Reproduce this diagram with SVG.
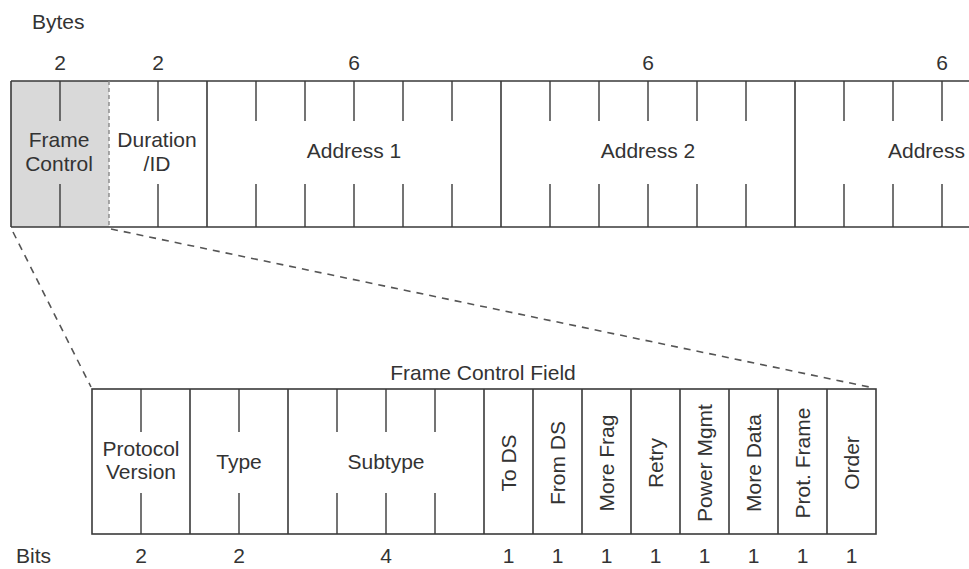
<svg xmlns="http://www.w3.org/2000/svg" width="969" height="569" viewBox="0 0 969 569">
<style>
  text { font-family: "Liberation Sans", Arial, sans-serif; font-size: 21px; fill: #333; }
  .c { text-anchor: middle; }
  .ln { stroke: #3a3a3a; stroke-width: 1.6; fill: none; }
  .tk { stroke: #3a3a3a; stroke-width: 1.4; fill: none; }
  .dash { stroke: #555; stroke-width: 1.6; stroke-dasharray: 7 6; fill: none; }
</style>
<rect width="969" height="569" fill="#fff"/>

<text x="32" y="29">Bytes</text>
<g id="byte-sizes">
  <text class="c" x="60" y="70">2</text>
  <text class="c" x="158" y="70">2</text>
  <text class="c" x="354" y="70">6</text>
  <text class="c" x="648" y="70">6</text>
  <text class="c" x="942" y="70">6</text>
</g>

<g id="frame-control">
  <rect x="11" y="81" width="98" height="146" fill="#d9d9d9"/>
  <line class="tk" x1="60" y1="81" x2="60" y2="121"/>
  <line class="tk" x1="60" y1="184" x2="60" y2="227"/>
  <text class="c" x="59" y="147">Frame</text>
  <text class="c" x="59" y="171">Control</text>
</g>
<g id="duration-id">
  <line class="tk" x1="158" y1="81" x2="158" y2="121"/>
  <line class="tk" x1="158" y1="184" x2="158" y2="227"/>
  <text class="c" x="157" y="147">Duration</text>
  <text class="c" x="157" y="171">/ID</text>
</g>
<g id="address1">
  <path class="tk" d="M256 81V121M305 81V121M354 81V121M403 81V121M452 81V121M256 184V227M305 184V227M354 184V227M403 184V227M452 184V227"/>
  <text class="c" x="354" y="158">Address 1</text>
</g>
<g id="address2">
  <path class="tk" d="M550 81V121M599 81V121M648 81V121M697 81V121M746 81V121M550 184V227M599 184V227M648 184V227M697 184V227M746 184V227"/>
  <text class="c" x="648" y="158">Address 2</text>
</g>
<g id="address3">
  <path class="tk" d="M844 81V121M893 81V121M942 81V121M844 184V227M893 184V227M942 184V227"/>
  <text x="888" y="158">Address</text>
</g>
<g id="top-frame">
  <path class="ln" d="M11 81H969M11 227H969M11 81V227M207 81V227M501 81V227M795 81V227"/>
  <line x1="109" y1="81" x2="109" y2="227" stroke="#888" stroke-width="1.4" stroke-dasharray="4 3"/>
</g>

<g id="connectors">
  <line class="dash" x1="13" y1="232" x2="91" y2="387"/>
  <line class="dash" x1="111" y1="229" x2="874" y2="388"/>
</g>

<text class="c" x="483" y="380">Frame Control Field</text>

<g id="fcf-frame">
  <rect class="ln" x="92" y="389" width="784" height="145"/>
  <path class="ln" d="M190 389V534M288 389V534M484 389V534M533 389V534M582 389V534M631 389V534M680 389V534M729 389V534M778 389V534M827 389V534"/>
</g>
<g id="protocol-version">
  <path class="tk" d="M141 389V432M141 493V534"/>
  <text class="c" x="141" y="456">Protocol</text>
  <text class="c" x="141" y="479">Version</text>
</g>
<g id="type">
  <path class="tk" d="M239 389V432M239 493V534"/>
  <text class="c" x="239" y="469">Type</text>
</g>
<g id="subtype">
  <path class="tk" d="M337 389V432M386 389V432M435 389V432M337 493V534M386 493V534M435 493V534"/>
  <text class="c" x="386" y="469">Subtype</text>
</g>
<g id="to-ds"><text class="c" transform="translate(515.5 463) rotate(-90)">To DS</text></g>
<g id="from-ds"><text class="c" transform="translate(564.5 463) rotate(-90)">From DS</text></g>
<g id="more-frag"><text class="c" transform="translate(613.5 463) rotate(-90)">More Frag</text></g>
<g id="retry"><text class="c" transform="translate(662.5 463) rotate(-90)">Retry</text></g>
<g id="power-mgmt"><text class="c" transform="translate(711.5 463) rotate(-90)">Power Mgmt</text></g>
<g id="more-data"><text class="c" transform="translate(760.5 463) rotate(-90)">More Data</text></g>
<g id="prot-frame"><text class="c" transform="translate(809.5 463) rotate(-90)">Prot. Frame</text></g>
<g id="order"><text class="c" transform="translate(858.5 463) rotate(-90)">Order</text></g>

<text x="16" y="563">Bits</text>
<g id="bit-sizes">
  <text class="c" x="141" y="563">2</text>
  <text class="c" x="239" y="563">2</text>
  <text class="c" x="386" y="563">4</text>
  <text class="c" x="508.5" y="563">1</text>
  <text class="c" x="557.5" y="563">1</text>
  <text class="c" x="606.5" y="563">1</text>
  <text class="c" x="655.5" y="563">1</text>
  <text class="c" x="704.5" y="563">1</text>
  <text class="c" x="753.5" y="563">1</text>
  <text class="c" x="802.5" y="563">1</text>
  <text class="c" x="851.5" y="563">1</text>
</g>
</svg>
